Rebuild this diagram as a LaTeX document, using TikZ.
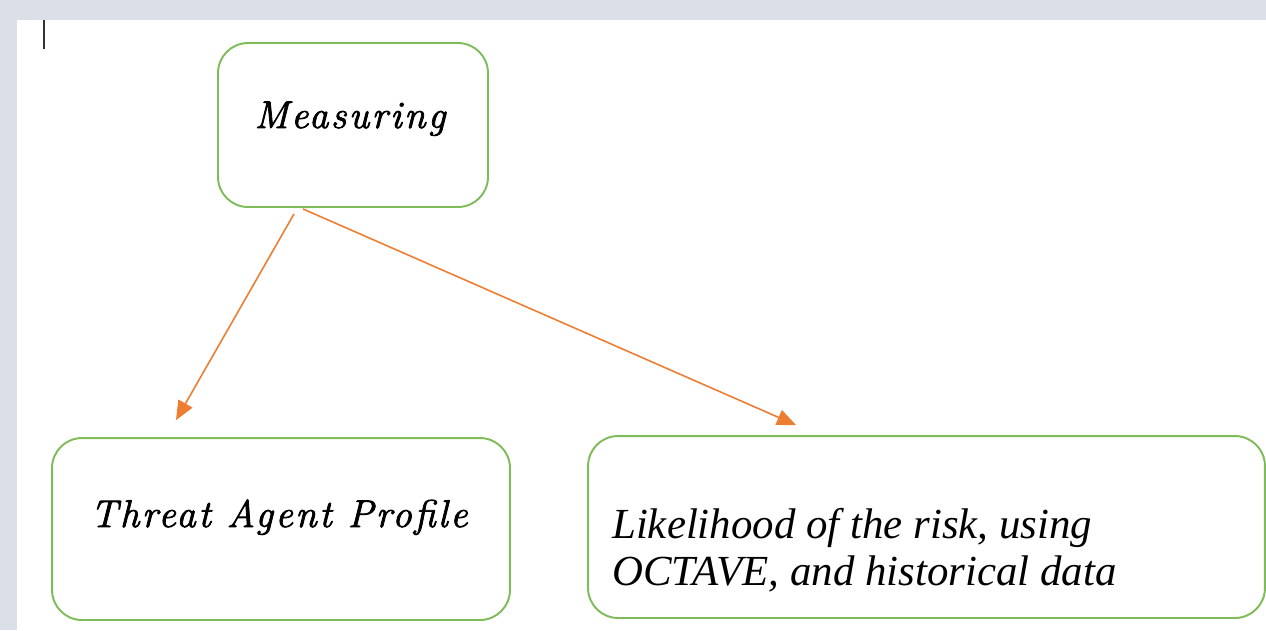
\documentclass[tikz,border=0pt]{standalone}
\usepackage{fontspec}
\usepackage{tikz}
\usetikzlibrary{arrows.meta,positioning}
\newfontfamily\timesfont{Liberation Serif}
\newfontfamily\spacedfont{Latin Modern Roman}[LetterSpace=6.5,FakeBold=2]
\definecolor{pagegray}{RGB}{219,223,232}
\definecolor{boxgreen}{RGB}{126,188,90}
\definecolor{arroworange}{RGB}{237,125,49}
\definecolor{cursorgray}{RGB}{50,50,50}

\begin{document}
\begin{tikzpicture}[x=0.02cm,y=-0.02cm,
  stepbox/.style={draw=boxgreen,line width=1.1pt,rounded corners=0.6cm,fill=white},
  flow/.style={-{Triangle[length=0.38cm,width=0.32cm]},arroworange,line width=0.9pt},
  spacedlbl/.style={font=\spacedfont\itshape\fontsize{22}{26}\selectfont,anchor=base},
  textlbl/.style={font=\timesfont\itshape\fontsize{24.4}{26.6}\selectfont,align=left,anchor=base west}]

  % page and cursor
  \fill[pagegray] (0,0) rectangle (1266,630);
  \fill[white] (17,20) rectangle (1266,630);
  \useasboundingbox (0,0) rectangle (1266,630);
  \draw[cursorgray,line width=1.1pt] (44,20) -- (44,49);

  % boxes
  \node[stepbox,minimum width=5.4cm,minimum height=3.28cm] (meas) at (353,125) {};
  \node[stepbox,minimum width=9.16cm,minimum height=3.64cm] (threat) at (281,529) {};
  \node[stepbox,minimum width=13.54cm,minimum height=3.64cm] (likely) at (926.5,527) {};

  % labels
  \node[spacedlbl] (meastxt) at (350,128) {Measuring};
  \node[spacedlbl] (threattxt) at (279,527) {Threat Agent Prof{}ile};
  \node[textlbl] (likelytxt) at (606,585)
    {Likelihood of the risk, using\\OCTAVE, and historical data};

  % arrows
  \coordinate (out1) at ([xshift=-1.18cm,yshift=-0.12cm]meas.south);
  \coordinate (out2) at ([xshift=-1.0cm,yshift=-0.02cm]meas.south);
  \coordinate (in1) at ([xshift=-2.1cm,yshift=0.34cm]threat.north);
  \coordinate (in2) at ([xshift=-2.61cm,yshift=0.2cm]likely.north);
  \draw[flow] (out1) -- (in1);
  \draw[flow] (out2) -- (in2);

\end{tikzpicture}
\end{document}
